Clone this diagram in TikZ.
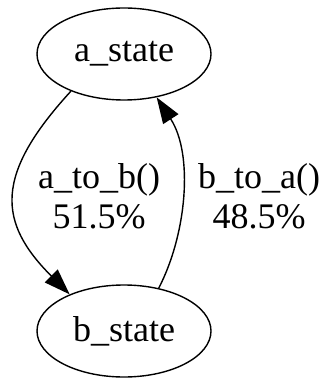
\documentclass[tikz,border=0pt]{standalone}
\usepackage{fontspec}
\setmainfont{Liberation Serif}
\usetikzlibrary{shapes.geometric,arrows.meta}
\begin{document}
\begin{tikzpicture}[x=1pt,y=-1pt,
  statenode/.style={draw,ellipse,line width=1.4pt,minimum width=174pt,minimum height=92pt,inner sep=0pt,font=\fontsize{36}{40}\selectfont},
  edgelabel/.style={align=center,inner sep=0pt,font=\fontsize{36}{40}\selectfont},
  conn/.style={line width=1.4pt,-{Triangle[length=26pt,width=18pt]}}]
\useasboundingbox (0,0) rectangle (324,379);
\node[statenode] (a) at (124,54) {a\_state};
\node[statenode] (b) at (124,331) {b\_state};
\node[edgelabel] (l1) at (99,196) {a\_to\_b()\\51.5\%};
\node[edgelabel] (l2) at (259,196) {b\_to\_a()\\48.5\%};
\draw[conn] (a.215) .. controls +(-77,84) and +(-72,-72) .. (b.146);
\draw[conn] (b.51) .. controls +(28,-54) and +(37,57) .. (a.307);
\end{tikzpicture}
\end{document}
